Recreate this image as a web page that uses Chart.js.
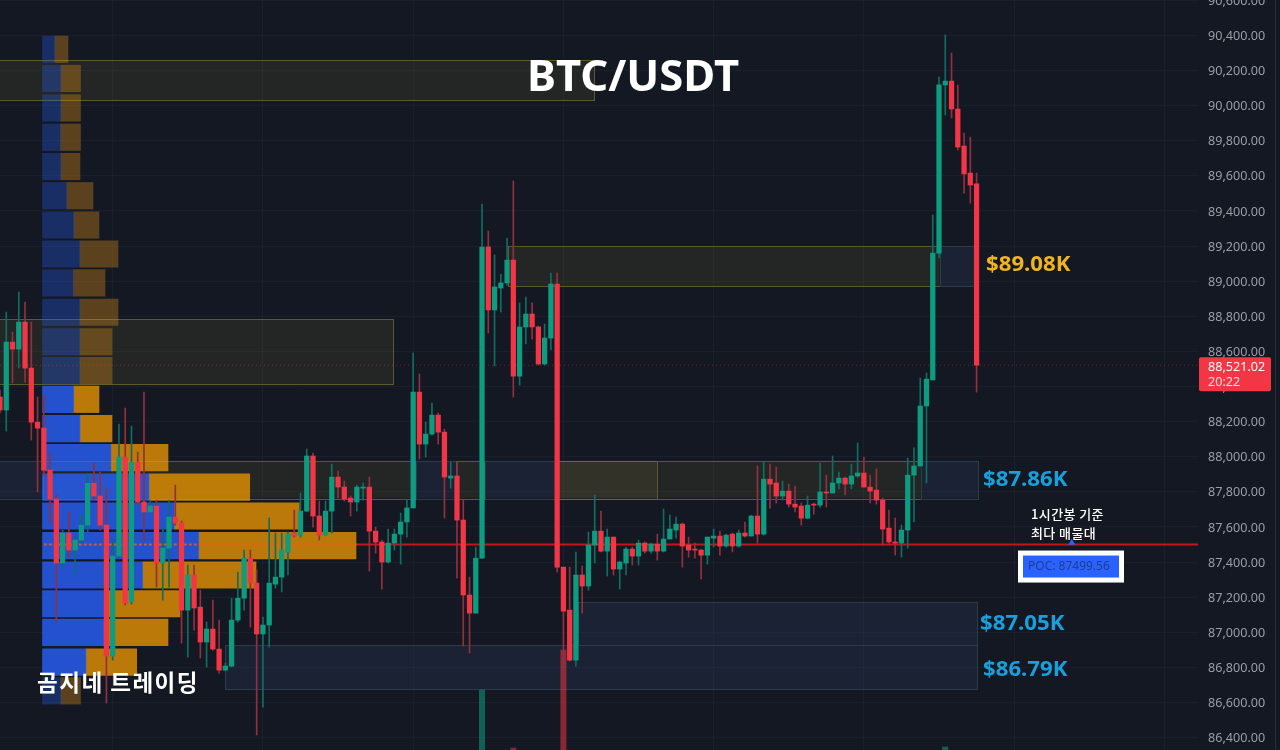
<!DOCTYPE html>
<html>
<head>
<meta charset="utf-8">
<title>BTC/USDT</title>
<script src="https://cdn.jsdelivr.net/npm/chart.js@4"></script>
<style>
  html, body { margin: 0; padding: 0; background: #141823; overflow: hidden; }
  canvas { display: block; }
</style>
</head>
<body>
<canvas id="chart" width="1280" height="750"></canvas>
<script>
// ohlc, one hour candles
var opens = [88340,88266,88653,88613,88767,88505,88197,88163,87924,87759,87394,87565,87468,87525,87610,87849,87776,87610,86864,87434,
  87998,87172,87970,87742,87685,87719,87394,87479,87656,87622,87126,87326,87143,86944,87018,86904,86784,86807,87069,87194,
  87422,87280,86990,87041,87274,87314,87456,87565,87553,87690,88004,87662,87553,87690,87884,87827,87764,87742,87821,87827,
  87576,87514,87400,87508,87559,87628,87708,88368,88072,88129,88237,88140,87878,87890,87639,87212,87109,87422,89195,88836,
  88961,88990,89120,88459,88739,88813,88739,88528,88676,88984,87371,87126,86841,87326,87263,87497,87576,87462,87542,87360,
  87394,87474,87434,87508,87462,87502,87462,87531,87582,87616,87497,87474,87468,87439,87536,87548,87491,87559,87491,87565,
  87548,87662,87559,87872,87850,87776,87804,87730,87719,87650,87730,87724,87799,87793,87850,87878,87844,87890,87907,87827,
  87810,87753,87593,87514,87508,87582,87895,87947,88289,88437,89160,90118,90140,89981,89770,89616,89554];
var highs = [88380,88824,88710,88938,88881,88767,88340,88351,88021,87782,87582,87685,87542,87667,87906,87964,87912,87821,87525,88186,
  88277,88175,88026,88368,87753,87753,87599,87753,87838,87633,87383,87383,87240,87058,87183,87069,86824,87194,87342,87468,
  87468,87354,87086,87651,87565,87565,87570,87696,87793,88044,88021,87747,87747,87958,87918,87861,87776,87838,87850,87884,
  87599,87525,87588,87588,87679,87753,88590,88471,88197,88305,88249,88157,87970,87970,87753,87314,87485,89440,89286,89149,
  89040,89246,89571,88876,88910,88876,88745,88756,89046,89046,87371,87371,87457,87377,87571,87782,87690,87588,87542,87405,
  87485,87485,87525,87514,87508,87559,87702,87667,87656,87622,87542,87508,87474,87542,87588,87576,87559,87565,87582,87628,
  87667,87947,87970,87958,87941,87861,87844,87833,87736,87776,87736,87964,87895,88004,87912,87884,87958,88078,87998,87895,
  87930,87764,87696,87651,87611,87992,88050,88448,88477,89377,90163,90403,90300,90118,89844,89821,89616];
var lows = [88249,88146,88420,88505,88425,88095,87799,87895,87622,87058,87371,87428,87337,87508,87565,87753,87582,86596,86841,87428,
  87155,87160,87730,87525,87679,87257,87183,87257,87610,86938,86858,87012,86853,86801,86898,86767,86779,86801,87058,87126,
  87029,86414,86573,86915,87251,87229,87326,87542,87542,87685,87599,87525,87553,87565,87764,87747,87662,87690,87753,87348,
  87451,87246,87394,87468,87388,87542,87708,87987,87998,88123,88072,87650,87821,87308,86921,86881,87109,87422,88705,88516,
  88824,88978,88340,88408,88642,88670,88522,88522,88608,87343,86796,86836,86807,87109,87240,87394,87457,87320,87326,87246,
  87326,87383,87383,87451,87451,87411,87457,87531,87536,87371,87428,87422,87303,87388,87485,87439,87485,87457,87485,87542,
  87548,87508,87553,87707,87736,87753,87713,87685,87610,87645,87673,87713,87713,87793,87816,87782,87816,87884,87827,87736,
  87730,87497,87508,87440,87428,87479,87628,87947,87850,88437,89132,89947,89930,89747,89502,89445,88368];
var closes = [88266,88653,88613,88767,88505,88197,88163,87924,87759,87394,87565,87468,87525,87610,87849,87776,87610,86864,87434,87998,
  87166,87970,87742,87685,87719,87394,87479,87656,87622,87126,87326,87138,86944,87018,86904,86784,86807,87069,87194,87422,
  87280,86990,87041,87280,87314,87468,87559,87548,87690,88004,87662,87553,87690,87884,87827,87759,87742,87827,87827,87576,
  87514,87400,87508,87559,87628,87708,88368,88072,88129,88237,88140,87884,87890,87639,87212,87109,87422,89195,88836,88967,
  88990,89120,88459,88739,88813,88739,88528,88676,88984,87371,87120,86841,87326,87263,87497,87576,87462,87542,87360,87400,
  87474,87434,87508,87462,87502,87462,87531,87588,87616,87491,87468,87468,87439,87542,87548,87491,87553,87491,87565,87548,
  87662,87559,87872,87844,87776,87804,87730,87713,87650,87724,87724,87799,87793,87850,87878,87844,87890,87907,87827,87804,
  87753,87588,87514,87508,87582,87895,87947,88289,88442,89160,90118,90140,89981,89764,89611,89548,88521];

// volume pane, only the bars that reach into the picture
var volumeIndex = [77, 82, 90, 151];
var volumeValue = [600, 20, 1000, 30];

// volume profile rows
var profilePrices = [90321,90155,89987,89820,89653,89487,89320,89155,88990,88823,88655,88490,88327,88160,87995,87827,87662,87493,87326,87162,86999,86830,86666];
var profileBuy = [12.5,18.5,18.5,18.2,18.5,24.5,31.5,37.5,31,37.5,37.5,37.5,31.2,37.5,68.5,106.5,131.8,156.2,100.2,64.2,61.5,43.5,18.5];
var profileSell = [13,19.5,19.5,19.8,19,26,25,38,31.5,38,32,32,25.3,32,57,100.7,125,157.3,113.3,73.3,64,50.7,19.5];
var valueAreaFirst = 12, valueAreaLast = 21;

// supply and demand boxes
var zoneStart = [-2, -2, 81.1, 150.1, -2, 6.9, 66.4, 72.9, 77.4, 88.8, 105, 147.1, 92.4, 36];
var zoneEnd = [95, 62.9, 150.1, 156, 6.9, 66.4, 72.9, 77.4, 88.8, 105, 147.1, 156.2, 156.2, 156.2];
var zoneTop = [90260,88782,89198,89198,87977,87977,87977,87977,87977,87977,87977,87977,87171,86927];
var zoneBottom = [90032,88411,88972,88972,87763,87763,87763,87763,87763,87763,87763,87763,86927,86676];
var zoneKind = ['y','y','y','b','b','y','b','y','b','Y','y','b','b','b'];

var pocPrice = 87499.56;
var lastPrice = 88521.02;
var countdown = '20:22';
var priceTicks = [90600,90400,90200,90000,89800,89600,89400,89200,89000,88800,88600,88400,88200,88000,87800,87600,87400,87200,87000,86800,86600,86400];
var timeTicks = [18,42,66,90,114,138,162,186];

var GREEN = '#0d9c80', RED = '#f23645';
var WICK_GREEN = '#0f6e62', WICK_RED = '#93303f';

var indexes = opens.map(function(v, i) { return i; });
function isUp(i) { return closes[i] >= opens[i]; }

var zoneColors = {
  y: ['rgba(96,92,48,0.22)', '#5c5a2c'],
  Y: ['rgba(112,104,52,0.34)', '#6a6732'],
  b: ['rgba(50,72,110,0.22)', '#2a3c4c']
};

var zonesPlugin = {
  id: 'zones',
  beforeDatasetsDraw: function(chart) {
    var c = chart.ctx, xs = chart.scales.x, ys = chart.scales.y;
    c.save();
    zoneStart.forEach(function(start, i) {
      var x0 = xs.getPixelForValue(start), x1 = xs.getPixelForValue(zoneEnd[i]);
      var y0 = ys.getPixelForValue(zoneTop[i]), y1 = ys.getPixelForValue(zoneBottom[i]);
      c.fillStyle = zoneColors[zoneKind[i]][0];
      c.fillRect(x0, y0, x1 - x0, y1 - y0);
      c.strokeStyle = zoneColors[zoneKind[i]][1];
      c.lineWidth = 1;
      c.strokeRect(Math.round(x0) + 0.5, Math.round(y0) + 0.5, Math.round(x1 - x0), Math.round(y1 - y0));
    });
    c.restore();
  }
};

function text(c, str, x, y, font, color) {
  c.font = font;
  c.fillStyle = color;
  c.fillText(str, x, y);
}

var notesPlugin = {
  id: 'notes',
  afterDraw: function(chart) {
    var c = chart.ctx, ys = chart.scales.y;
    c.save();
    c.textBaseline = 'middle';
    c.textAlign = 'left';

    text(c, 'BTC/USDT', 527, 79, 'bold 43.6px "Noto Sans"', '#ffffff');
    var big = 'bold 22.2px "Noto Sans"';
    text(c, '$89.08K', 986, 265, big, '#f0b41c');
    text(c, '$87.86K', 983, 480, big, '#18a0dc');
    text(c, '$87.05K', 980, 624, big, '#18a0dc');
    text(c, '$86.79K', 983, 670, big, '#18a0dc');
    c.letterSpacing = '1.5px';
    text(c, '곰지네 트레이딩', 37, 682, 'bold 22.5px "Noto Sans CJK KR"', '#ffffff');
    c.letterSpacing = '0.4px';
    text(c, '1시간봉 기준', 1031, 514, '500 13px "Noto Sans CJK KR"', '#ffffff');
    text(c, '최다 매물대', 1031, 533, '500 13px "Noto Sans CJK KR"', '#ffffff');
    c.letterSpacing = '0px';

    // poc tag under the line
    var py = ys.getPixelForValue(pocPrice);
    c.fillStyle = '#ffffff';
    c.fillRect(1018, py + 6, 106, 32);
    c.fillStyle = '#2962ff';
    c.fillRect(1023, py + 11, 96, 22);
    text(c, 'POC: ' + pocPrice.toFixed(2), 1028, py + 22, '12px "Noto Sans"', '#1f3f8f');

    // last price tag on the axis
    var ly = ys.getPixelForValue(lastPrice);
    c.fillStyle = RED;
    c.beginPath();
    c.roundRect(1199, ly - 8, 72, 34, 2);
    c.fill();
    var lab = '12.6px "Noto Sans"';
    text(c, lastPrice.toLocaleString('en-US', { minimumFractionDigits: 2 }), 1208, ly + 2, lab, '#ffffff');
    text(c, countdown, 1208, ly + 17, lab, '#ffd9dc');

    c.fillStyle = '#2a2e39';
    c.fillRect(1275, 0, 1, 750);
    c.restore();
  }
};

new Chart(document.getElementById('chart'), {
  data: {
    datasets: [
      {
        type: 'bar', label: 'bodies', order: 1, grouped: false, barThickness: 4.6,
        xAxisID: 'x', yAxisID: 'y', borderWidth: 0,
        backgroundColor: indexes.map(function(i) { return isUp(i) ? GREEN : RED; }),
        data: indexes.map(function(i) { return { x: i, y: [opens[i], closes[i]] }; })
      },
      {
        type: 'bar', label: 'wicks', order: 2, grouped: false, barThickness: 1,
        xAxisID: 'x', yAxisID: 'y', borderWidth: 0,
        backgroundColor: indexes.map(function(i) { return isUp(i) ? WICK_GREEN : WICK_RED; }),
        data: indexes.map(function(i) { return { x: i, y: [lows[i], highs[i]] }; })
      },
      {
        type: 'scatter', label: 'poc mark', order: 3, xAxisID: 'x', yAxisID: 'y',
        pointStyle: 'triangle', pointRadius: 4, backgroundColor: '#2962ff', borderWidth: 0,
        data: [{ x: 171.2, y: pocPrice + 10 }]
      },
      {
        type: 'line', label: 'poc', order: 4, xAxisID: 'x', yAxisID: 'y',
        borderColor: '#c3161c', borderWidth: 2, pointRadius: 0,
        data: [{ x: 57, y: pocPrice }, { x: 191.5, y: pocPrice }]
      },
      {
        type: 'line', label: 'poc in profile', order: 4, xAxisID: 'x', yAxisID: 'y',
        borderColor: 'rgba(236,96,30,0.8)', borderWidth: 2, borderDash: [3, 2], pointRadius: 0,
        data: [{ x: 7, y: pocPrice }, { x: 57, y: pocPrice }]
      },
      {
        type: 'line', label: 'last', order: 4, xAxisID: 'x', yAxisID: 'y',
        borderColor: 'rgba(242,54,69,0.4)', borderWidth: 1, borderDash: [1, 3], pointRadius: 0,
        data: [{ x: 0, y: lastPrice }, { x: 191.5, y: lastPrice }]
      },
      {
        type: 'bar', label: 'volume', order: 5, grouped: false, barThickness: 5.4,
        xAxisID: 'x', yAxisID: 'yVol', borderWidth: 0,
        backgroundColor: volumeIndex.map(function(i) { return isUp(i) ? 'rgba(13,156,128,0.55)' : 'rgba(242,54,69,0.52)'; }),
        data: volumeIndex.map(function(i, k) { return { x: i, y: volumeValue[k] }; })
      },
      {
        type: 'bar', label: 'profile buy', order: 6, indexAxis: 'y', grouped: false, barThickness: 26.5,
        xAxisID: 'xVol', yAxisID: 'y', borderWidth: 0,
        backgroundColor: profilePrices.map(function(p, i) { return i >= valueAreaFirst && i <= valueAreaLast ? 'rgba(41,98,255,0.78)' : 'rgba(41,98,255,0.3)'; }),
        data: profilePrices.map(function(p, i) { return { y: p, x: [0, profileBuy[i]] }; })
      },
      {
        type: 'bar', label: 'profile sell', order: 6, indexAxis: 'y', grouped: false, barThickness: 26.5,
        xAxisID: 'xVol', yAxisID: 'y', borderWidth: 0,
        backgroundColor: profilePrices.map(function(p, i) { return i >= valueAreaFirst && i <= valueAreaLast ? 'rgba(242,153,0,0.75)' : 'rgba(242,153,20,0.32)'; }),
        data: profilePrices.map(function(p, i) { return { y: p, x: [profileBuy[i], profileBuy[i] + profileSell[i]] }; })
      }
    ]
  },
  options: {
    responsive: false,
    animation: false,
    layout: { padding: 0, autoPadding: false },
    plugins: { legend: { display: false }, tooltip: { enabled: false } },
    scales: {
      x: {
        type: 'linear', min: 0, max: 191.37, offset: false,
        afterFit: function(axis) { axis.paddingLeft = 0; axis.paddingRight = 0; axis.height = 0; },
        afterBuildTicks: function(axis) { axis.ticks = timeTicks.map(function(v) { return { value: v }; }); },
        ticks: { display: false },
        border: { display: false },
        grid: { color: '#1a1f2c', drawTicks: false, offset: false }
      },
      y: {
        type: 'linear', position: 'right', min: 86329, max: 90602, offset: false,
        afterFit: function(axis) { axis.width = 82; axis.paddingTop = 0; axis.paddingBottom = 0; },
        afterBuildTicks: function(axis) { axis.ticks = priceTicks.map(function(v) { return { value: v }; }); },
        ticks: {
          autoSkip: false, padding: 10, color: '#9a9da5', labelOffset: 1,
          font: { family: '"Noto Sans"', size: 12.6 },
          callback: function(v) { return v.toLocaleString('en-US', { minimumFractionDigits: 2 }); }
        },
        border: { display: false },
        grid: { color: '#1a1f2c', drawTicks: false, offset: false }
      },
      xVol: { type: 'linear', axis: 'x', display: false, position: 'top', min: -42.5, max: 1155.5, offset: false },
      yVol: { type: 'linear', axis: 'y', display: false, position: 'left', min: 0, max: 7500, offset: false }
    }
  },
  plugins: [zonesPlugin, notesPlugin]
});
</script>
</body>
</html>
